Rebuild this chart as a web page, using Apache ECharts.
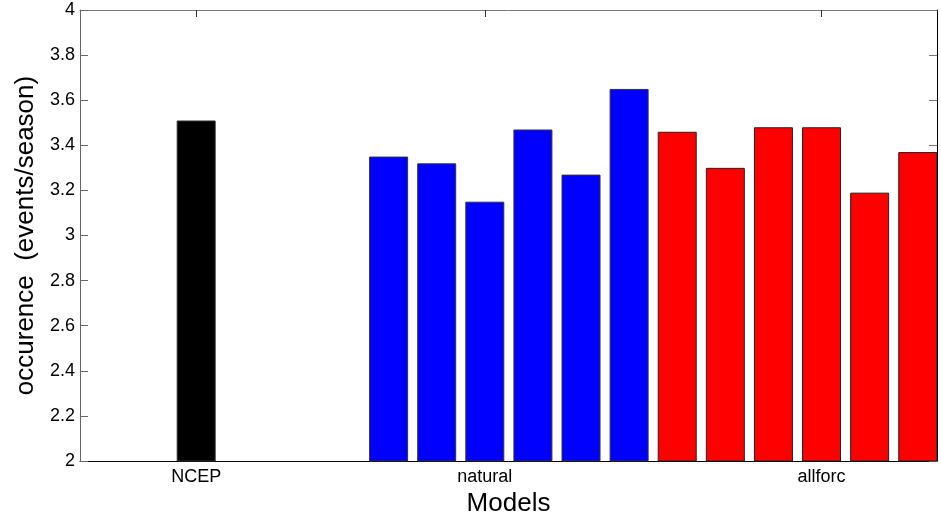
<!DOCTYPE html>
<html>
<head>
<meta charset="utf-8">
<script src="https://cdn.jsdelivr.net/npm/echarts@6/dist/echarts.min.js"></script>
<style>
html,body{margin:0;padding:0;background:#fff;}
#chart{width:941px;height:519px;}
</style>
</head>
<body>
<div id="chart"></div>
<script>
// Data
const groupNames = ['NCEP', 'natural', 'allforc'];
const ncepValues = [3.51];
const naturalValues = [3.35, 3.32, 3.15, 3.47, 3.27, 3.65];
const allforcValues = [3.46, 3.30, 3.48, 3.48, 3.19, 3.37];
const ncepX = [1];
const naturalX = [5, 6, 7, 8, 9, 10];
const allforcX = [11, 12, 13, 14, 15, 16];
const groupTickX = [1, 7, 14];
const yTicks = [2, 2.2, 2.4, 2.6, 2.8, 3, 3.2, 3.4, 3.6, 3.8, 4];

const FONT = 'Liberation Sans, Arial, Helvetica, sans-serif';
const pair = (xs, ys) => xs.map((x, i) => [x, ys[i]]);

const chart = echarts.init(document.getElementById('chart'));
const barCommon = {
  type: 'bar',
  barWidth: 39,
  barGap: '-100%',
  clip: true,
  xAxisIndex: 0,
  yAxisIndex: 0
};
chart.setOption({
  animation: false,
  backgroundColor: '#fff',
  grid: { left: 80, right: 4, top: 10, bottom: 58, containLabel: false, outerBoundsMode: 'none' },
  xAxis: [
    {
      type: 'value', position: 'bottom', min: -1.415, max: 16.4,
      name: 'Models', nameLocation: 'middle', nameGap: 27,
      nameTextStyle: { fontFamily: FONT, fontSize: 26, color: '#000' },
      axisLine: { show: true, onZero: false, lineStyle: { color: '#000', width: 1 } },
      axisTick: { show: true, inside: true, length: 7, customValues: groupTickX, lineStyle: { color: '#000' } },
      axisLabel: {
        show: true, customValues: groupTickX, margin: 7,
        fontFamily: FONT, fontSize: 18, color: '#000',
        formatter: v => groupNames[groupTickX.indexOf(Math.round(v))] || ''
      },
      splitLine: { show: false }
    },
    {
      type: 'value', position: 'top', min: -1.415, max: 16.4,
      axisLine: { show: true, onZero: false, lineStyle: { color: '#777', width: 1 } },
      axisTick: { show: true, inside: true, length: 7, customValues: groupTickX, lineStyle: { color: '#333' } },
      axisLabel: { show: false },
      splitLine: { show: false }
    }
  ],
  yAxis: [
    {
      type: 'value', position: 'left', min: 2, max: 4, interval: 0.2,
      name: 'occurence  (events/season)', nameLocation: 'middle', nameGap: 38,
      nameTextStyle: { fontFamily: FONT, fontSize: 26, color: '#000' },
      axisLine: { show: true, onZero: false, lineStyle: { color: '#666', width: 1 } },
      axisTick: { show: true, inside: true, length: 8, lineStyle: { color: '#666' } },
      axisLabel: {
        show: true, margin: 5, fontFamily: FONT, fontSize: 18, color: '#000',
        customValues: yTicks,
        formatter: v => String(Math.round(v * 10) / 10)
      },
      splitLine: { show: false }
    },
    {
      type: 'value', position: 'right', min: 2, max: 4, interval: 0.2,
      axisLine: { show: true, onZero: false, lineStyle: { color: '#000', width: 1 } },
      axisTick: { show: true, inside: true, length: 8, lineStyle: { color: '#777' } },
      axisLabel: { show: false },
      splitLine: { show: false }
    }
  ],
  series: [
    Object.assign({}, barCommon, {
      name: 'NCEP', data: pair(ncepX, ncepValues),
      itemStyle: { color: '#000000', borderColor: '#333', borderWidth: 1 }
    }),
    Object.assign({}, barCommon, {
      name: 'natural', data: pair(naturalX, naturalValues),
      itemStyle: { color: '#0000ff', borderColor: '#333', borderWidth: 1 }
    }),
    Object.assign({}, barCommon, {
      name: 'allforc', data: pair(allforcX, allforcValues),
      itemStyle: { color: '#ff0000', borderColor: '#222', borderWidth: 1 }
    })
  ]
});
</script>
</body>
</html>
